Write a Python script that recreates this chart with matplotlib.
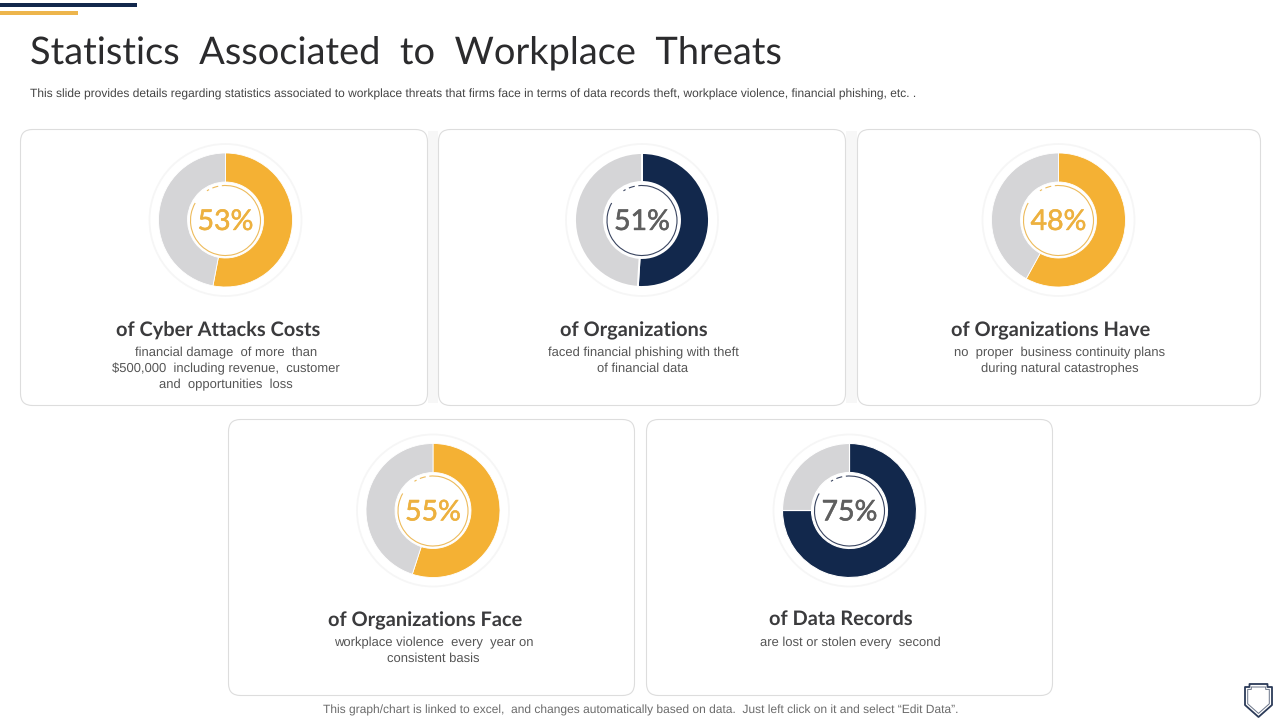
import matplotlib
matplotlib.use("Agg")
import matplotlib.pyplot as plt
import matplotlib.patheffects as pe
from matplotlib.patches import FancyBboxPatch, Circle, Arc, Rectangle, Polygon

plt.rcParams["text.hinting"] = "no_hinting"
plt.rcParams["text.hinting_factor"] = 1

# ---------- data ----------
title = "Statistics  Associated  to  Workplace  Threats"
subtitle = ("This slide provides details regarding statistics associated to workplace threats that firms face "
            "in terms of data records theft, workplace violence, financial phishing, etc. .")
footer = "This graph/chart is linked to excel,  and changes automatically based on data.  Just left click on it and select \u201cEdit Data\u201d."
percent_labels = ["53%", "51%", "48%", "55%", "75%"]
fill_values = [53, 51, 58, 55, 75]
headings = ["of Cyber Attacks Costs", "of Organizations", "of Organizations Have",
            "of Organizations Face", "of Data Records"]
descriptions = [
    ["financial damage  of more  than", "$500,000  including revenue,  customer", "and  opportunities  loss"],
    ["faced financial phishing with theft", "of financial data"],
    ["no  proper  business continuity plans", "during natural catastrophes"],
    ["workplace violence  every  year on", "consistent basis"],
    ["are lost or stolen every  second"],
]

# ---------- style / layout ----------
NAVY = "#12284C"
GOLD = "#F4B134"
GOLD_TXT = "#EDB13F"
GRAY = "#D5D5D7"
DARK = "#3B3B3D"
BODY = "#555555"
accent = [GOLD, NAVY, GOLD, GOLD, NAVY]
pct_color = [GOLD_TXT, "#5F5F5F", GOLD_TXT, GOLD_TXT, "#5F5F5F"]
ring_color = ["#EDBB5C", "#3A4560", "#EDBB5C", "#EDBB5C", "#3A4560"]
seam = [0.6, 1.4, 0.6, 0.6, 0.8]
cards = [(20.5, 129.5, 407, 276), (438.5, 129.5, 407, 276), (857.5, 129.5, 403, 276),
         (228.5, 419.5, 406, 276), (646.5, 419.5, 406, 276)]
centers = [(225.5, 220), (642, 220), (1058.5, 220), (433, 510.5), (849.5, 510.5)]
text_x = [218.5, 634, 1050.5, 425, 841]
desc_x = [226, 643, 1059.5, 433.5, 850]
W, H = 1280, 720
R_OUT, R_IN, R_HALO = 67, 38, 76

fig = plt.figure(figsize=(W / 100, H / 100), dpi=100, facecolor="white")
bg = fig.add_axes([0, 0, 1, 1], zorder=0)
bg.set_xlim(0, W); bg.set_ylim(H, 0); bg.axis("off")

# top accent bars
bg.add_patch(Rectangle((0, 3), 137, 4, fc=NAVY, ec="none"))
bg.add_patch(Rectangle((0, 11), 78, 4, fc="#EDB54C", ec="none"))

# faint background panel behind the cards
bg.add_patch(Rectangle((428, 131), 10, 272, fc="#F7F7F7", ec="none"))
bg.add_patch(Rectangle((846, 131), 11, 272, fc="#F7F7F7", ec="none"))

# cards
for (x, y, w, h) in cards:
    bg.add_patch(FancyBboxPatch((x + 12, y + 12), w - 24, h - 24,
                                boxstyle="round,pad=12,rounding_size=12",
                                fc="white", ec="#DDDDDD", lw=0.8))

# text
bg.text(30, 54, title, fontsize=27.1, family="Lato", color="#2B2B2D", va="center", ha="left")
bg.text(30, 94, subtitle, fontsize=8.55, family="Liberation Sans", color="#444444", va="center", ha="left")
bg.text(640.5, 710, footer, fontsize=8.42, family="Liberation Sans", color="#6B6B6B", va="center", ha="center")

for i, (cx, cy) in enumerate(centers):
    bg.add_patch(Circle((cx, cy), R_HALO, fc="white", ec="#F6F6F6", lw=1.3))
    ax = fig.add_axes([(cx - R_OUT) / W, 1 - (cy + R_OUT) / H, 2 * R_OUT / W, 2 * R_OUT / H], zorder=1)
    ax.pie([fill_values[i], 100 - fill_values[i]], colors=[accent[i], GRAY], startangle=90,
           counterclock=False, radius=1, wedgeprops=dict(width=1 - R_IN / R_OUT, ec="white", lw=seam[i]))
    ax.set_xlim(-1, 1); ax.set_ylim(-1, 1); ax.axis("off")

fg = fig.add_axes([0, 0, 1, 1], zorder=2)
fg.set_xlim(0, W); fg.set_ylim(H, 0); fg.axis("off"); fg.patch.set_alpha(0)
for i, (cx, cy) in enumerate(centers):
    # dashed inner ring (angles measured in flipped y-axis)
    for a0, a1 in [(-96, 210), (-112, -102), (-122, -118)]:
        fg.add_patch(Arc((cx, cy + 0.5), 70, 70, theta1=a0, theta2=a1, ec=ring_color[i], lw=0.8))
    fg.text(cx - 0.5, cy + 2, percent_labels[i], fontsize=20.5, family="Lato",
            color=pct_color[i], ha="center", va="center",
            path_effects=[pe.withStroke(linewidth=0.4, foreground=pct_color[i])])
    top = cards[i][1]
    fg.text(text_x[i], top + 201, headings[i], fontsize=14.55, family="Lato", weight="bold",
            color=DARK, ha="center", va="center")
    for j, line in enumerate(descriptions[i]):
        fg.text(desc_x[i], top + 223 + 16 * j, line, fontsize=9.05, family="Liberation Sans",
                color=BODY, ha="center", va="center")

# shield icon (bottom right)
def shield(scale, lw, col):
    cx, cy = 1258.5, 699
    pts = [(-9, -15), (9, -15), (9, -12), (13.5, -12), (13.5, 6), (0, 18), (-13.5, 6), (-13.5, -12), (-9, -12)]
    fg.add_patch(Polygon([(cx + a * scale, cy + b * scale) for a, b in pts], closed=True,
                         fc="white", ec=col, lw=lw, joinstyle="round"))
shield(1.0, 1.3, "#2B3A58")
shield(0.8, 0.7, "#6A7488")

fig.savefig("out.png", dpi=100, facecolor="white")
